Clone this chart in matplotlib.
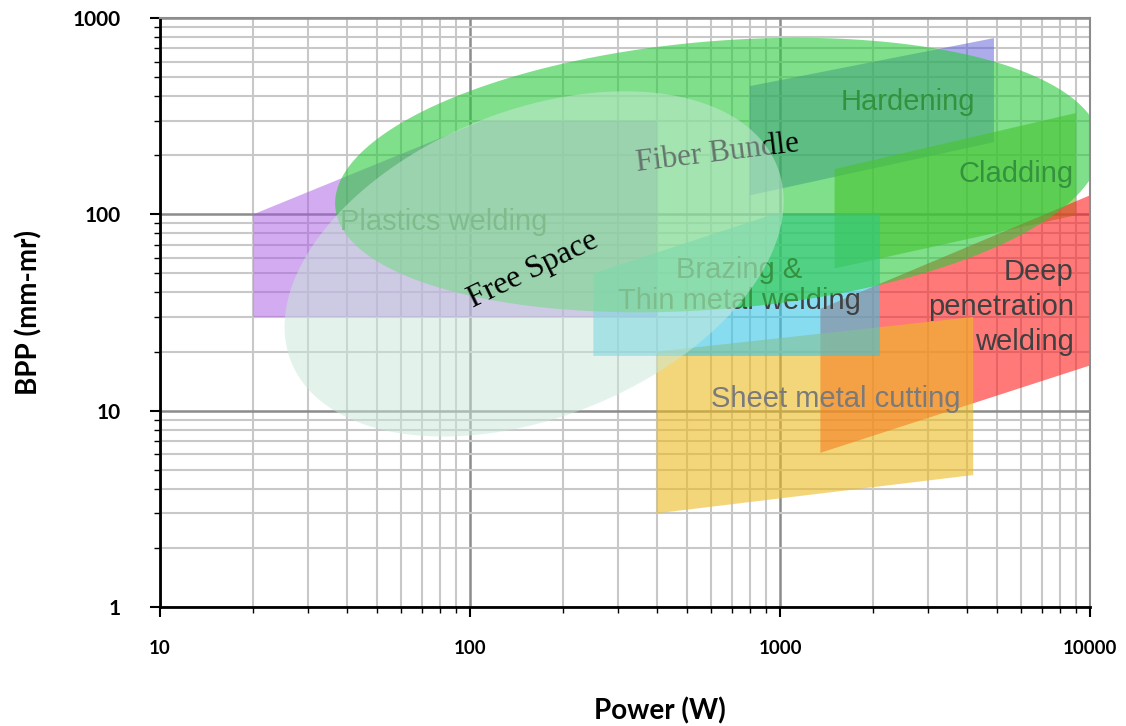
import numpy as np
import matplotlib
matplotlib.use("Agg")
import matplotlib.pyplot as plt
from matplotlib.patches import Polygon
from matplotlib.ticker import LogLocator, NullFormatter, FixedFormatter, FixedLocator

# ---------------- data ----------------
x_ticks = [10, 100, 1000, 10000]
x_tick_labels = ["10", "100", "1000", "10000"]
y_ticks = [1, 10, 100, 1000]
y_tick_labels = ["1", "10", "100", "1000"]

# process regions: (power W, BPP mm-mrad) vertices
plastics_x = [20, 20, 110, 400, 400]
plastics_y = [30, 100, 300, 300, 30]
hardening_x = [800, 800, 4900, 4900]
hardening_y = [125, 450, 790, 233]
cladding_x = [1500, 1500, 9000, 9000]
cladding_y = [53, 170, 328, 99]
deep_x = [1350, 1350, 10000, 10000]
deep_y = [6.1, 33, 125, 17]
sheet_x = [400, 400, 4200, 4200]
sheet_y = [3.0, 20, 30, 4.7]
brazing_x = [250, 250, 950, 2100, 2100]
brazing_y = [19, 50, 100, 100, 19]

# delivery ellipses: centre (W, BPP), semi-axes (decades of power), tilt (deg)
free_center = (161, 55.9)
free_axes = (0.845, 0.494)
free_angle = 22.0
fiber_center = (631, 158.5)
fiber_axes = (1.239, 0.432)
fiber_angle = 4.8

labels = ["Plastics welding", "Hardening", "Cladding", "Brazing &\nThin metal welding",
          "Deep\npenetration\nwelding", "Sheet metal cutting"]
label_x = [82, 2590, 5770, 738, 8870, 1517]
label_y = [91.4, 372, 160, 43.6, 33.7, 11.5]

# ---------------- figure ----------------
fig = plt.figure(figsize=(11.26, 7.26), dpi=100)
ax = fig.add_axes([160/1126, 1-607/726, 930/1126, 589/726])
ax.set_xscale("log")
ax.set_yscale("log")
ax.set_xlim(10, 10000)
ax.set_ylim(1, 1000)

# y-decades per x-decade for equal on-screen length
yx_ratio = 930 / 589


def ellipse_pts(center, axes_dec, angle_deg, n=300):
    t = np.linspace(0, 2*np.pi, n)
    a, b = axes_dec
    th = np.deg2rad(angle_deg)
    du = a*np.cos(t)*np.cos(th) - b*np.sin(t)*np.sin(th)
    dv = a*np.cos(t)*np.sin(th) + b*np.sin(t)*np.cos(th)
    lx = np.log10(center[0]) + du
    ly = np.log10(center[1]) + dv*yx_ratio
    return np.column_stack([10**lx, 10**ly])


def poly(xs, ys, color, alpha, z=1):
    p = Polygon(np.column_stack([xs, ys]), closed=True, facecolor=color,
                edgecolor="none", alpha=alpha, zorder=z)
    ax.add_patch(p)

poly(plastics_x, plastics_y, "#a959e5", 0.5)
poly(hardening_x, hardening_y, "#5a5ad8", 0.5)
poly(cladding_x, cladding_y, "#70bc20", 0.6)
poly(deep_x, deep_y, "#ff2020", 0.6)
poly(sheet_x, sheet_y, "#eebb21", 0.6)
poly(brazing_x, brazing_y, "#39c5e6", 0.6)

sans = "Liberation Sans"
serif = "Liberation Serif"
for txt, lx, ly in zip(labels, label_x, label_y):
    if txt.startswith("Deep"):
        ax.text(lx, ly, txt, ha="right", va="center", fontsize=21, family=sans,
                color="#404040", zorder=2, linespacing=1.3, multialignment="right")
    elif txt.startswith("Sheet"):
        ax.text(lx, ly, txt, ha="center", va="center", fontsize=21, family=sans,
                color="#7a7a7a", zorder=2)
    else:
        ax.text(lx, ly, txt, ha="center", va="center", fontsize=21, family=sans,
                color="#404040", zorder=2, linespacing=1.13)

fiber = Polygon(ellipse_pts(fiber_center, fiber_axes, fiber_angle), closed=True,
                facecolor="#2bca3c", edgecolor="none", alpha=0.6, zorder=3)
ax.add_patch(fiber)
ax.text(627, 205, "Fiber Bundle", rotation=7, ha="center", va="center",
        fontsize=22.5, family=serif, color="black", zorder=3.5)
free = Polygon(ellipse_pts(free_center, free_axes, free_angle), closed=True,
               facecolor="#c9e9d9", edgecolor="none", alpha=0.5, zorder=4)
ax.add_patch(free)
ax.text(160, 52, "Free Space", rotation=26, ha="center", va="center",
        fontsize=23, family=serif, color="black", zorder=5)

# grid
ax.set_axisbelow(True)
ax.grid(which="major", color="#8c8c8c", lw=1.8)
ax.grid(which="minor", color="#c8c8c8", lw=1.5)

ax.xaxis.set_major_locator(FixedLocator(x_ticks))
ax.yaxis.set_major_locator(FixedLocator(y_ticks))
ax.xaxis.set_major_formatter(FixedFormatter(x_tick_labels))
ax.yaxis.set_major_formatter(FixedFormatter(y_tick_labels))
ax.xaxis.set_minor_locator(LogLocator(base=10, subs=np.arange(2, 10)))
ax.yaxis.set_minor_locator(LogLocator(base=10, subs=np.arange(2, 10)))
ax.xaxis.set_minor_formatter(NullFormatter())
ax.yaxis.set_minor_formatter(NullFormatter())

ax.tick_params(which="major", direction="out", length=7, width=1.5, color="black")
ax.tick_params(which="minor", direction="out", length=4.5, width=1, color="black")
ax.tick_params(axis="x", which="major", pad=17)
ax.tick_params(axis="y", which="major", pad=21)
for lab in ax.get_xticklabels():
    lab.set_fontfamily("Lato")
    lab.set_fontweight("bold")
    lab.set_fontsize(13.5)
for lab in ax.get_yticklabels():
    lab.set_fontfamily("Lato")
    lab.set_fontweight("bold")
    lab.set_fontsize(15)

for s in ["left", "bottom"]:
    ax.spines[s].set_color("black")
    ax.spines[s].set_linewidth(2)
for s in ["top", "right"]:
    ax.spines[s].set_color("#8c8c8c")
    ax.spines[s].set_linewidth(1.5)

ax.set_xlabel("Power (W)", fontsize=20, fontweight="bold", family="Lato", va="center")
ax.set_ylabel("BPP (mm-mr)", fontsize=20, fontweight="bold", family="Lato", va="center")
ax.xaxis.set_label_coords(0.538, -0.176)
ax.yaxis.set_label_coords(-0.141, 0.50)

fig.savefig("out.png", dpi=100)
